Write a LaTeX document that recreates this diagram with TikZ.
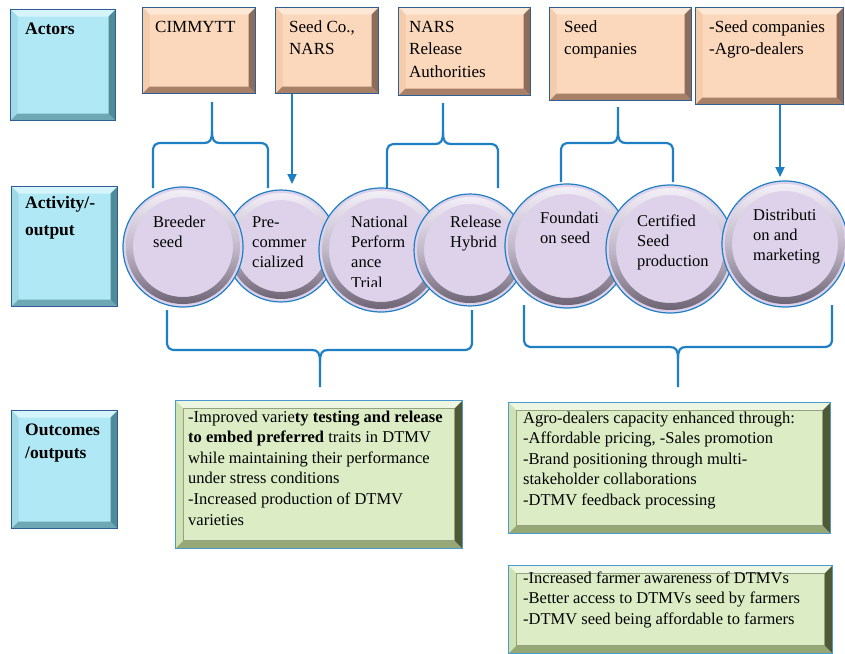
\documentclass[tikz,border=0pt]{standalone}
\usepackage{fontspec}
\setmainfont{Liberation Serif}
\usetikzlibrary{arrows.meta,calc}
\definecolor{bline}{RGB}{31,127,196}
\definecolor{bordB}{RGB}{46,94,150}
\definecolor{cyanF}{RGB}{176,232,245}
\definecolor{cyTop}{RGB}{214,245,251}
\definecolor{cyLeft}{RGB}{160,218,232}
\definecolor{cyBot}{RGB}{110,168,180}
\definecolor{cyRight}{RGB}{80,140,152}
\definecolor{orF}{RGB}{251,216,188}
\definecolor{orTop}{RGB}{253,232,214}
\definecolor{orLeft}{RGB}{244,204,172}
\definecolor{orBot}{RGB}{168,128,104}
\definecolor{orRight}{RGB}{140,108,90}
\definecolor{grF}{RGB}{220,237,197}
\definecolor{grTop}{RGB}{236,246,224}
\definecolor{grLeft}{RGB}{206,226,180}
\definecolor{grBot}{RGB}{150,168,118}
\definecolor{grRight}{RGB}{78,90,54}
\definecolor{grLine}{RGB}{150,160,130}
\definecolor{lavF}{RGB}{222,210,235}
\definecolor{ringD}{RGB}{105,96,112}
\newcommand\bvl[5]{%
  \fill[#1] (path picture bounding box.north west) -- (path picture bounding box.north east)
     -- ([xshift=-#5,yshift=-#5]path picture bounding box.north east) -- ([xshift=#5,yshift=-#5]path picture bounding box.north west) -- cycle;
  \fill[#2] (path picture bounding box.north west) -- (path picture bounding box.south west)
     -- ([xshift=#5,yshift=#5]path picture bounding box.south west) -- ([xshift=#5,yshift=-#5]path picture bounding box.north west) -- cycle;
  \fill[#3] (path picture bounding box.south west) -- (path picture bounding box.south east)
     -- ([xshift=-#5,yshift=#5]path picture bounding box.south east) -- ([xshift=#5,yshift=#5]path picture bounding box.south west) -- cycle;
  \fill[#4] (path picture bounding box.north east) -- (path picture bounding box.south east)
     -- ([xshift=-#5,yshift=#5]path picture bounding box.south east) -- ([xshift=-#5,yshift=-#5]path picture bounding box.north east) -- cycle;
}
\newcommand\tbrace[7]{%
  \draw[brc] (#1,#6) -- (#1,#5+9) .. controls (#1,#5+2) and (#1+2,#5) .. (#1+9,#5) -- (#2-8,#5)
     .. controls (#2-2,#5) and (#2,#5-3) .. (#2,#5-12) -- (#2,#4);
  \draw[brc] (#2,#5-12) .. controls (#2,#5-3) and (#2+2,#5) .. (#2+8,#5) -- (#3-9,#5)
     .. controls (#3-2,#5) and (#3,#5+2) .. (#3,#5+9) -- (#3,#7);
}
\newcommand\bbrace[7]{%
  \draw[brc] (#1,#4) -- (#1,#6-9) .. controls (#1,#6-2) and (#1+2,#6) .. (#1+9,#6) -- (#2-8,#6)
     .. controls (#2-2,#6) and (#2,#6+3) .. (#2,#6+12) -- (#2,#7);
  \draw[brc] (#2,#6+12) .. controls (#2,#6+3) and (#2+2,#6) .. (#2+8,#6) -- (#3-9,#6)
     .. controls (#3-2,#6) and (#3,#6-2) .. (#3,#6-9) -- (#3,#5);
}
\tikzset{
  bx/.style={rectangle, anchor=north west, inner sep=0pt, line width=1.1pt},
  cyanbox/.style={bx, fill=cyanF, draw=bordB, path picture={\bvl{cyTop}{cyLeft}{cyBot}{cyRight}{7pt}}},
  orbox/.style={bx, fill=orF, draw=bordB, path picture={\bvl{orTop}{orLeft}{orBot}{orRight}{7pt}}},
  grbox/.style={bx, fill=grF, draw=bline!80, path picture={\bvl{grTop}{grLeft}{grBot}{grRight}{8pt}
     \draw[grLine, line width=0.8pt] ([xshift=8pt,yshift=-8pt]path picture bounding box.north west) rectangle ([xshift=-8pt,yshift=8pt]path picture bounding box.south east);}},
  cnode/.style={circle, inner sep=0pt, minimum size={2*#1pt}, fill=lavF, draw=bline, line width=1.2pt,
     path picture={\shade[even odd rule, top color=lavF!30!white, bottom color=ringD, middle color=lavF!70!gray]
        (path picture bounding box.center) circle ({#1pt-3pt}) (path picture bounding box.center) circle ({#1pt-10pt});}},
  lbl/.style={anchor=base west, inner sep=0pt, align=left, font=\bfseries\fontsize{17.5}{26}\selectfont},
  otxt/.style={anchor=base west, inner sep=0pt, align=left, font=\fontsize{17}{22.5}\selectfont},
  ctxt/.style={anchor=base west, inner sep=0pt, align=left, font=\fontsize{16.5}{20.4}\selectfont},
  btxt/.style={anchor=base west, inner sep=0pt, align=left, font=\fontsize{16.5}{20.6}\selectfont},
  brc/.style={draw=bline, line width=2.2pt},
  arr/.style={brc, -{Triangle[length=10pt,width=9pt]}}
}
\begin{document}
\begin{tikzpicture}[x=1pt,y=-1pt]
\useasboundingbox (0,0) rectangle (845,653);
% left category boxes
\node[cyanbox, minimum width=105pt, minimum height=111pt] (actB) at (10,9) {};
\node[cyanbox, minimum width=106pt, minimum height=120pt] (actvB) at (11,186) {};
\node[cyanbox, minimum width=106pt, minimum height=118pt] (outB) at (11,410) {};
\node[lbl] (actT) at (25,34) {Actors};
\node[lbl, font=\bfseries\fontsize{17.5}{27}\selectfont] (actvT) at (25,235) {Activity/-\\output};
\node[lbl, font=\bfseries\fontsize{17.5}{23.5}\selectfont] (outT) at (25,458.5) {Outcomes\\/outputs};
% actor boxes
\node[orbox, minimum width=113pt, minimum height=86pt] (cim) at (142,7) {};
\node[orbox, minimum width=103pt, minimum height=86pt] (seedco) at (275,7) {};
\node[orbox, minimum width=132pt, minimum height=88pt] (nars) at (398,7) {};
\node[orbox, minimum width=142pt, minimum height=93pt] (seedc) at (549,7) {};
\node[orbox, minimum width=148pt, minimum height=97pt] (agro) at (695,7) {};
\node[otxt] (cimT) at (155,32) {CIMMYTT};
\node[otxt] (seedcoT) at (289,54.5) {Seed Co.,\\NARS};
\node[otxt] (narsT) at (409,77) {NARS\\Release\\Authorities};
\node[otxt] (seedcT) at (564,54.5) {Seed\\companies};
\node[otxt] (agroT) at (709,54.5) {-Seed companies\\-Agro-dealers};
% braces and arrows
\tbrace{153}{212}{268}{102}{143}{188}{188}
\tbrace{387}{443}{498}{103}{144}{188}{188}
\tbrace{561}{618}{673}{107}{143}{182}{182}
\bbrace{167}{320}{472}{310}{310}{350}{387}
\bbrace{524}{678}{832}{305}{305}{347}{387}
\coordinate (a1e) at (292,184);
\coordinate (a2e) at (780,177);
\draw[arr] (seedco.south -| a1e) -- (a1e);
\draw[arr] (agro.south -| a2e) -- (a2e);
% activity circles
\node[cnode=56] (pre) at (281,246) {};
\node[cnode=60] (bre) at (183,247) {};
\node[cnode=62] (nat) at (381,250) {};
\node[cnode=56] (rel) at (470,250) {};
\node[cnode=62] (fou) at (567,246) {};
\node[cnode=64] (cer) at (670,249) {};
\node[cnode=63] (dis) at (785,244) {};
\node[ctxt] (breT) at (153,247.4) {Breeder\\seed};
\node[ctxt] (preT) at (252,267.8) {Pre-\\commer\\cialized};
\begin{scope}
\clip (330,200) rectangle (445,286);
\node[ctxt] (natT) at (351,288.2) {National\\Perform\\ance\\Trial};
\end{scope}
\node[ctxt] (relT) at (450,247.4) {Release\\Hybrid};
\node[ctxt] (fouT) at (540,243.4) {Foundati\\on seed};
\node[ctxt] (cerT) at (637,266.8) {Certified\\Seed\\production};
\node[ctxt] (disT) at (753,260.8) {Distributi\\on and\\marketing};
% outcome boxes
\node[grbox, minimum width=287pt, minimum height=148pt] (o1) at (175,400) {};
\node[grbox, minimum width=322pt, minimum height=131pt] (o2) at (508,402) {};
\node[grbox, minimum width=324pt, minimum height=88pt] (o3) at (508,565) {};
\node[btxt] (o1T) at (188,525) {-Improved varie\textbf{ty testing and release}\\\textbf{to embed preferred} traits in DTMV\\while maintaining their performance\\under stress conditions\\-Increased production of DTMV\\varieties};
\node[btxt] (o2T) at (523,505.4) {Agro-dealers capacity enhanced through:\\-Affordable pricing, -Sales promotion\\-Brand positioning through multi-\\stakeholder collaborations\\-DTMV feedback processing};
\node[btxt] (o3T) at (523,624.2) {-Increased farmer awareness of DTMVs\\-Better access to DTMVs seed by farmers\\-DTMV seed being affordable to farmers};
\end{tikzpicture}
\end{document}
